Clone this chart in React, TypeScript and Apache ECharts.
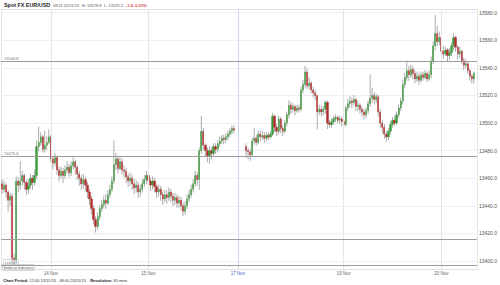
import React, { useEffect, useRef } from "react";
import * as echarts from "echarts";

// trading sessions in half-hour slots: [date, firstSlot, endSlot)
const SESSIONS: [string, number, number][] = [
  ["13/11", 24, 48],
  ["14/11", 0, 48],
  ["15/11", 0, 44],
  ["17/11", 44, 48],
  ["18/11", 0, 48],
  ["19/11", 0, 48],
  ["20/11", 0, 18],
];

const DAY_LABELS: Record<string, string> = {
  "14/11 00:00": "14 Nov",
  "15/11 00:00": "15 Nov",
  "17/11 22:00": "17 Nov",
  "19/11 00:00": "19 Nov",
  "20/11 00:00": "20 Nov",
};
const HIGHLIGHT_DAY = "17/11 22:00";

const Y_TICKS = [13400, 13420, 13440, 13460, 13480, 13500, 13520, 13540, 13560, 13580];
const LEVELS = [13544.8, 13475.6, 13415.5, 13396.9];
const LEVEL_LABELS = ["13544.8", "13475.6", "", ""];
const LAST_PRICE = 13536.1;

// [open, close, low, high]
const ohlc: (number[] | null)[] = [
  [13456, 13452, 13449, 13459], [13452, 13455, 13450, 13458], [13455, 13450, 13446, 13456], [13450, 13444, 13436, 13451],
  [13444, 13447, 13440, 13449], [13447, 13402, 13400, 13449], [13402, 13401, 13397, 13405], [13401, 13458, 13399, 13461],
  [13458, 13455, 13450, 13460], [13455, 13458, 13452, 13472], [13458, 13462, 13455, 13465], [13462, 13457, 13452, 13463],
  [13457, 13452, 13448, 13458], [13452, 13455, 13449, 13459], [13455, 13460, 13453, 13463], [13460, 13457, 13452, 13462],
  [13457, 13462, 13455, 13466], [13462, 13483, 13460, 13487], [13483, 13486, 13480, 13497], [13486, 13490, 13484, 13493],
  [13490, 13481, 13479, 13491], [13481, 13484, 13479, 13494], [13484, 13486, 13481, 13490], [13486, 13490, 13485, 13495],
  [13490, 13474, 13472, 13491], [13474, 13471, 13467, 13476], [13471, 13475, 13469, 13478], [13475, 13466, 13463, 13476],
  [13466, 13462, 13458, 13468], [13462, 13465, 13460, 13468], [13465, 13462, 13457, 13467], [13462, 13466, 13460, 13469],
  [13466, 13468, 13464, 13472], [13468, 13464, 13461, 13470], [13464, 13469, 13462, 13472], [13469, 13472, 13467, 13475],
  [13472, 13468, 13463, 13473], [13468, 13463, 13459, 13469], [13463, 13460, 13455, 13465], [13460, 13456, 13452, 13462],
  [13456, 13459, 13453, 13463], [13459, 13455, 13451, 13461], [13455, 13450, 13446, 13457], [13450, 13445, 13441, 13452],
  [13445, 13438, 13434, 13447], [13438, 13430, 13427, 13440], [13430, 13425, 13421, 13432], [13425, 13432, 13423, 13435],
  [13432, 13438, 13430, 13440], [13438, 13441, 13436, 13444], [13441, 13444, 13439, 13447], [13444, 13442, 13438, 13448],
  [13442, 13448, 13441, 13451], [13448, 13452, 13446, 13455], [13452, 13458, 13450, 13461], [13458, 13470, 13456, 13487],
  [13470, 13474, 13466, 13478], [13474, 13467, 13464, 13476], [13467, 13472, 13466, 13475], [13472, 13466, 13463, 13474],
  [13466, 13465, 13461, 13469], [13465, 13461, 13457, 13467], [13461, 13458, 13454, 13463], [13458, 13460, 13455, 13464],
  [13460, 13456, 13452, 13462], [13456, 13453, 13449, 13459], [13453, 13455, 13450, 13458], [13455, 13450, 13446, 13457],
  [13450, 13452, 13447, 13455], [13452, 13456, 13450, 13459], [13456, 13459, 13454, 13462], [13459, 13462, 13456, 13465],
  [13462, 13458, 13454, 13464], [13458, 13455, 13451, 13460], [13455, 13458, 13452, 13461], [13458, 13454, 13450, 13460],
  [13454, 13450, 13446, 13456], [13450, 13452, 13447, 13455], [13452, 13448, 13444, 13454], [13448, 13445, 13441, 13450],
  [13445, 13448, 13443, 13451], [13448, 13446, 13442, 13451], [13446, 13450, 13444, 13453], [13450, 13447, 13443, 13452],
  [13447, 13444, 13440, 13449], [13444, 13446, 13441, 13449], [13446, 13442, 13439, 13448], [13442, 13444, 13439, 13447],
  [13444, 13440, 13437, 13446], [13440, 13436, 13433, 13442], [13436, 13440, 13434, 13443], [13440, 13445, 13438, 13448],
  [13445, 13448, 13443, 13451], [13448, 13452, 13446, 13455], [13452, 13456, 13450, 13459], [13456, 13462, 13454, 13465],
  [13462, 13459, 13455, 13464], [13459, 13480, 13452, 13482], [13480, 13494, 13478, 13505], [13494, 13484, 13481, 13496],
  [13484, 13480, 13476, 13485], [13480, 13476, 13472, 13482], [13476, 13480, 13471, 13483], [13480, 13478, 13474, 13482],
  [13478, 13483, 13476, 13485], [13483, 13481, 13478, 13485], [13481, 13485, 13479, 13487], [13485, 13487, 13483, 13490],
  [13487, 13489, 13485, 13491], [13489, 13488, 13485, 13491], [13488, 13490, 13486, 13492], [13490, 13492, 13488, 13494],
  [13492, 13494, 13490, 13496], [13494, 13496, 13492, 13498], [13496, 13495, 13493, 13498],
  null, null, null, null, null,
  [13483, 13480, 13475, 13485], [13480, 13479, 13474, 13482], [13479, 13477, 13473, 13481], [13477, 13487, 13476, 13489],
  [13487, 13489, 13485, 13496], [13489, 13486, 13484, 13491], [13486, 13492, 13485, 13494], [13492, 13490, 13487, 13494],
  [13490, 13491, 13488, 13494], [13491, 13489, 13486, 13493], [13489, 13491, 13487, 13493], [13491, 13490, 13488, 13493],
  [13490, 13492, 13489, 13494], [13492, 13505, 13491, 13507], [13505, 13497, 13494, 13506], [13497, 13494, 13491, 13499],
  [13494, 13503, 13492, 13505], [13503, 13496, 13493, 13504], [13496, 13494, 13491, 13498], [13494, 13500, 13493, 13502],
  [13500, 13506, 13498, 13508], [13506, 13513, 13504, 13516], [13513, 13510, 13507, 13515], [13510, 13512, 13508, 13514],
  [13512, 13509, 13506, 13513], [13509, 13511, 13508, 13513], [13511, 13510, 13508, 13513], [13510, 13524, 13509, 13526],
  [13524, 13528, 13522, 13531], [13528, 13537, 13526, 13541], [13537, 13527, 13525, 13539], [13527, 13529, 13525, 13533],
  [13529, 13524, 13522, 13530], [13524, 13522, 13519, 13526], [13522, 13520, 13517, 13524], [13520, 13508, 13496, 13520],
  [13508, 13510, 13506, 13513], [13510, 13508, 13505, 13512], [13508, 13510, 13506, 13512], [13510, 13515, 13507, 13516],
  [13515, 13500, 13496, 13516], [13500, 13499, 13497, 13502], [13499, 13501, 13497, 13503], [13501, 13503, 13499, 13505],
  [13503, 13504, 13501, 13506], [13504, 13502, 13500, 13505], [13502, 13503, 13500, 13505], [13503, 13501, 13498, 13504],
  [13501, 13499, 13497, 13503], [13499, 13511, 13498, 13512], [13511, 13514, 13509, 13517], [13514, 13516, 13512, 13519],
  [13516, 13515, 13511, 13518], [13515, 13517, 13513, 13520], [13517, 13512, 13509, 13518], [13512, 13513, 13509, 13516],
  [13513, 13510, 13507, 13514], [13510, 13508, 13505, 13512], [13508, 13506, 13503, 13510], [13506, 13509, 13504, 13511],
  [13509, 13514, 13507, 13516], [13514, 13518, 13512, 13535], [13518, 13520, 13515, 13525], [13520, 13517, 13514, 13522],
  [13517, 13519, 13515, 13521], [13519, 13508, 13505, 13520], [13508, 13500, 13497, 13510], [13500, 13497, 13493, 13502],
  [13497, 13492, 13489, 13499], [13492, 13490, 13487, 13494], [13490, 13494, 13488, 13496], [13494, 13499, 13492, 13501],
  [13499, 13502, 13497, 13504], [13502, 13500, 13498, 13505], [13500, 13506, 13499, 13508], [13506, 13511, 13504, 13513],
  [13511, 13516, 13509, 13518], [13516, 13528, 13514, 13531], [13528, 13533, 13526, 13536], [13533, 13538, 13531, 13545],
  [13538, 13535, 13531, 13541], [13535, 13539, 13533, 13542], [13539, 13536, 13532, 13541], [13536, 13532, 13529, 13538],
  [13532, 13534, 13530, 13537], [13534, 13531, 13528, 13536], [13531, 13535, 13530, 13537], [13535, 13533, 13531, 13537],
  [13533, 13536, 13532, 13538], [13536, 13532, 13530, 13537], [13532, 13535, 13531, 13538], [13535, 13545, 13533, 13548],
  [13545, 13556, 13543, 13559], [13556, 13565, 13553, 13578], [13565, 13559, 13556, 13570], [13559, 13562, 13557, 13566],
  [13562, 13552, 13550, 13564], [13552, 13550, 13547, 13556], [13550, 13553, 13549, 13555], [13553, 13549, 13545, 13554],
  [13549, 13551, 13546, 13554], [13551, 13556, 13549, 13558], [13556, 13562, 13553, 13565], [13562, 13555, 13552, 13563],
  [13555, 13550, 13547, 13556], [13550, 13552, 13548, 13555], [13552, 13545, 13543, 13553], [13545, 13542, 13539, 13547],
  [13542, 13543, 13540, 13546], [13543, 13538, 13536, 13544], [13538, 13534, 13531, 13539], [13534, 13532, 13529, 13535],
  [13532, 13536.1, 13529, 13537],
];

const FONT = "'Liberation Sans', Arial, sans-serif";

function buildCategories(): string[] {
  const out: string[] = [];
  for (const [d, a, b] of SESSIONS) {
    for (let s = a; s < b; s++) {
      const hh = String(Math.floor(s / 2)).padStart(2, "0");
      const mm = s % 2 ? "30" : "00";
      out.push(`${d} ${hh}:${mm}`);
    }
  }
  return out;
}

export default function App() {
  const ref = useRef<HTMLDivElement>(null);
  useEffect(() => {
    document.body.style.margin = "0";
    const chart = echarts.init(ref.current!, undefined, { renderer: "svg" });
    const categories = buildCategories();
    const wickData: number[][] = [];
    ohlc.forEach((r, i) => {
      if (!r) return;
      wickData.push([i, Math.min(r[0], r[1], r[2]), Math.max(r[0], r[1], r[3])]);
    });
    const bodyData = ohlc.map((r) => (r ? [r[0], r[1], Math.min(r[0], r[1]), Math.max(r[0], r[1])] : "-"));

    const vLines = Object.keys(DAY_LABELS).map((k) => ({
      xAxis: k,
      lineStyle: { color: k === HIGHLIGHT_DAY ? "#cfd5ec" : "#e6e6e6", width: 1, type: "solid" },
      label: { show: false },
    }));
    const hLines = LEVELS.map((v, i) => ({
      yAxis: v,
      lineStyle: { color: "#9c9c9c", width: 1, type: "solid" },
      label: {
        show: !!LEVEL_LABELS[i],
        formatter: LEVEL_LABELS[i],
        position: "insideStartTop",
        fontSize: 4,
        color: "#777",
        fontFamily: FONT,
        distance: [3, 1],
      },
    }));

    chart.setOption({
      animation: false,
      textStyle: { fontFamily: FONT },
      grid: { left: 1, right: 23, top: 9, bottom: 16 },
      xAxis: {
        type: "category",
        data: categories,
        boundaryGap: true,
        axisLine: { show: true, lineStyle: { color: "#e0e0e0" } },
        axisTick: { show: false },
        splitLine: { show: false },
        axisLabel: {
          interval: (_i: number, v: string) => !!DAY_LABELS[v],
          formatter: (v: string) => DAY_LABELS[v] || "",
          fontSize: 4.5,
          margin: 2,
          color: (v: string) => (v === HIGHLIGHT_DAY ? "#3f63c4" : "#666"),
          fontFamily: FONT,
        },
      },
      yAxis: {
        type: "value",
        position: "right",
        min: 13394.2,
        max: 13582.7,
        axisLine: { show: true, lineStyle: { color: "#e6e6e6" } },
        axisTick: { show: false, customValues: Y_TICKS },
        splitLine: { show: true, lineStyle: { color: "#efefef", width: 1 } },
        axisLabel: {
          customValues: Y_TICKS,
          formatter: (v: number) => v.toFixed(1),
          fontSize: 5,
          margin: 2,
          color: "#555",
          fontFamily: FONT,
        },
      },
      series: [
        {
          type: "custom",
          name: "wicks",
          data: wickData,
          encode: { x: 0, y: [1, 2] },
          renderItem: (_p: any, api: any) => {
            const idx = api.value(0);
            const lo = api.coord([idx, api.value(1)]);
            const hi = api.coord([idx, api.value(2)]);
            return {
              type: "line",
              shape: { x1: lo[0], y1: lo[1] + 0.5, x2: hi[0], y2: hi[1] - 0.5 },
              style: { stroke: "#a3a3a3", lineWidth: 0.9 },
            };
          },
          markLine: { silent: true, symbol: "none", data: [...vLines, ...hLines] },
          z: 2,
        },
        {
          type: "candlestick",
          name: "body",
          data: bodyData,
          barWidth: 1.7,
          itemStyle: { color: "#3a9a3a", color0: "#b02a2a", borderColor: "#3a9a3a", borderColor0: "#b02a2a", borderWidth: 0.4 },
          markLine: {
            silent: true,
            symbol: "none",
            data: [
              {
                yAxis: LAST_PRICE,
                lineStyle: { opacity: 0 },
                label: {
                  show: true,
                  position: "end",
                  formatter: LAST_PRICE.toFixed(1),
                  fontSize: 5,
                  color: "#444",
                  backgroundColor: "#fff",
                  borderColor: "#888",
                  borderWidth: 0.6,
                  padding: [0.5, 1, 0, 1],
                  distance: 2,
                  fontFamily: FONT,
                },
              },
            ],
          },
          z: 3,
        },
      ],
      graphic: [
        { type: "line", shape: { x1: 1, y1: 9.5, x2: 477, y2: 9.5 }, style: { stroke: "#e3e3e3", lineWidth: 1 }, silent: true },
        { type: "line", shape: { x1: 1.5, y1: 9, x2: 1.5, y2: 269 }, style: { stroke: "#e3e3e3", lineWidth: 1 }, silent: true },
        { type: "text", left: 4, top: 2, style: { text: "Spot FX EUR/USD", font: `bold 5.4px ${FONT}`, fill: "#222" } },
        { type: "text", left: 53, top: 3, style: { text: "08:11 20/11/13", font: `4px ${FONT}`, fill: "#555" } },
        { type: "text", left: 82, top: 3, style: { text: "H: 13578.8", font: `4px ${FONT}`, fill: "#555" } },
        { type: "text", left: 104, top: 3, style: { text: "L: 13529.2", font: `4px ${FONT}`, fill: "#555" } },
        { type: "text", left: 126, top: 3, style: { text: "-1.4 -0.01%", font: `bold 4px ${FONT}`, fill: "#e0403a" } },
        {
          type: "text", left: 3, top: 259.5,
          style: { text: "13396.9", font: `3.5px ${FONT}`, fill: "#666", backgroundColor: "#fff", borderColor: "#aaa", borderWidth: 0.5, padding: [0.5, 1] },
        },
        {
          type: "text", left: 2, top: 264.5,
          style: { text: "Study as Indicators", font: `3.5px ${FONT}`, fill: "#555", backgroundColor: "#fff", borderColor: "#aaa", borderWidth: 0.5, padding: [0.5, 1] },
        },
        {
          type: "text", left: 3, top: 278,
          style: {
            text: "{b|Chart Period:} 12:00 13/11/13 - 08:00 20/11/13    {b|Resolution:} 30 mins",
            font: `4px ${FONT}`, fill: "#333",
            rich: { b: { fontWeight: "bold", fontSize: 4, fontFamily: FONT, fill: "#222" } },
          },
        },
      ],
    });
    return () => chart.dispose();
  }, []);
  return <div ref={ref} style={{ width: 500, height: 285, position: "absolute", left: 0, top: 0 }} />;
}
